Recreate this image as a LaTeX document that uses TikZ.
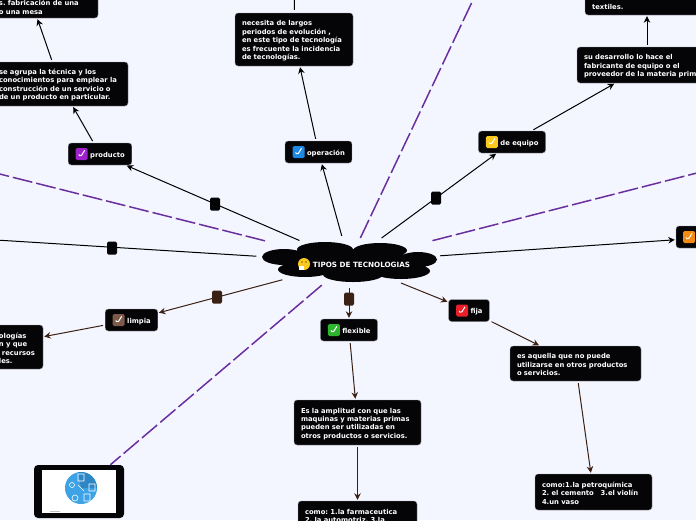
\documentclass[tikz,border=0pt]{standalone}
\usepackage{fontspec}
\setmainfont{DejaVu Sans}
\usepackage{tikz}
\usetikzlibrary{shapes,arrows.meta,positioning,calc}
\definecolor{fondo}{HTML}{F4F6FF}
\definecolor{negro}{HTML}{050508}
\definecolor{borde}{HTML}{9A9AA4}
\definecolor{morado}{HTML}{6A2F9E}
\definecolor{cafe}{HTML}{3A2114}
\definecolor{azulchk}{HTML}{1E88E5}
\definecolor{moradochk}{HTML}{A020D0}
\definecolor{amarillochk}{HTML}{FBC91E}
\definecolor{rojochk}{HTML}{E8202A}
\definecolor{verdechk}{HTML}{2DB52D}
\definecolor{marronchk}{HTML}{7E5A48}
\definecolor{naranjachk}{HTML}{F58A12}
\definecolor{azulimg}{HTML}{3DA2E6}
\definecolor{azulimgb}{HTML}{2F86C4}

\begin{document}
\begin{tikzpicture}[
    x=1pt, y=-1pt,
    font=\fontsize{6.8}{8.4}\bfseries\selectfont\frenchspacing,
    topic/.style={draw=borde, line width=0.4pt, fill=negro, text=white, rectangle, rounded corners=3pt, minimum height=22pt, inner xsep=7pt, inner ysep=0pt, execute at begin node={\rule{0pt}{7.6pt}}},
    detail/.style={draw=borde, line width=0.4pt, fill=negro, text=white, rectangle, rounded corners=3pt, inner xsep=7pt, inner ysep=0pt, align=left, execute at begin node={\rule{0pt}{7.8pt}}},
    chk/.style={rectangle, rounded corners=1.5pt, fill=#1, minimum size=12pt, inner sep=0pt, path picture={
        \draw[white, line width=1pt] ($(path picture bounding box.center)+(-3,0.5)$) -- ++(2,2.2) -- ++(4,-6.4);}},
    knot/.style={fill=#1, rectangle, rounded corners=1.5pt, minimum width=10pt, minimum height=13pt, inner sep=0pt},
    hub/.style={ellipse, minimum width=184pt, minimum height=48pt, inner sep=0pt},
    link/.style={draw=#1, line width=1pt, shorten <=2pt, shorten >=1pt, -{Stealth[length=6.5pt,width=6.5pt]}},
    plain/.style={draw=black, line width=1pt, shorten <=3pt},
    branch/.style={draw=morado, line width=1.5pt, dash pattern=on 20pt off 4pt}
]

\path[fill=fondo, use as bounding box] (0,0) rectangle (696,520);
\clip (0,0) rectangle (696,520);

\fill[negro] (284,257) ellipse [x radius=22, y radius=8] (325,249.5) ellipse [x radius=28, y radius=7.5]
    (380,250.5) ellipse [x radius=27, y radius=7.5] (418,259.5) ellipse [x radius=19, y radius=7.5]
    (401,271) ellipse [x radius=29, y radius=8] (353,274.5) ellipse [x radius=30, y radius=7.5]
    (305,269.5) ellipse [x radius=27, y radius=7.5] (349,262) ellipse [x radius=65, y radius=13];

\node[hub] (tema) at (349,262) {};
\node[text=white, font=\fontsize{7.2}{8.4}\bfseries\selectfont] (titulo) at (361.5,265) {TIPOS DE TECNOLOGIAS};
\fill[amarillochk] (304,264) circle (6);
\fill[black] (302,262) circle (0.7) (306,262) circle (0.7);
\fill[white] (299,266) rectangle (304,270);

\node[topic] (producto) at (100,154) {\hspace*{15pt}producto};
\node[chk=moradochk, right=7.5pt of producto.west] (chkproducto) {};
\node[topic] (operacion) at (318.5,152) {\hspace*{15pt}operación};
\node[chk=azulchk, right=7.5pt of operacion.west] (chkoperacion) {};
\node[topic] (equipo) at (512,142) {\hspace*{15pt}de equipo};
\node[chk=amarillochk, right=7.5pt of equipo.west] (chkequipo) {};
\node[topic] (limpia) at (131.5,320) {\hspace*{15pt}limpia};
\node[chk=marronchk, right=7.5pt of limpia.west] (chklimpia) {};
\node[topic] (flexible) at (349,330) {\hspace*{15pt}flexible};
\node[chk=verdechk, right=7.5pt of flexible.west] (chkflexible) {};
\node[topic] (fija) at (469,310.5) {\hspace*{15pt}fija};
\node[chk=rojochk, right=7.5pt of fija.west] (chkfija) {};
\node[topic, minimum width=80pt] (oculto) at (716,237) {};
\node[chk=naranjachk, right=7pt of oculto.west] (chkoculto) {};

\node[detail, text width=116pt, minimum height=24pt] (mesa) at (33,6) {\hspace*{24pt}s. fabricación de una\\\hspace*{24pt}o una mesa};
\node[detail, text width=122pt, minimum height=44pt] (agrupa) at (60,84) {se agrupa la técnica y los\\conocimientos para emplear la\\construcción de un servicio o\\de un producto en particular.};
\node[detail, text width=104pt, minimum height=53pt] (necesita) at (294,39.5) {necesita de largos\\periodos de evolución ,\\en este tipo de tecnología\\es frecuente la incidencia\\de tecnologías.};
\node[detail, text width=126pt, minimum height=36pt] (desarrollo) at (647,65) {su desarrollo lo hace el\\fabricante de equipo o el\\proveedor de la materia prima};
\node[detail, text width=110pt, minimum height=18pt] (textiles) at (647,6) {textiles.};
\node[detail, text width=94pt, minimum height=44pt] (ologias) at (-11,347) {\hspace*{57pt}ologías\\\hspace*{57pt}n y que\\\hspace*{60pt}recursos\\\hspace*{57pt}les.};
\node[detail, text width=113pt, minimum height=45pt] (amplitud) at (357.5,422.5) {Es la amplitud con que las\\maquinas y materias primas\\pueden ser utilizadas en\\otros productos o servicios.};
\node[detail, text width=105pt, minimum height=28pt] (farma) at (357.5,515) {como: 1.la farmaceutica\\2. la automotriz, 3.la};
\node[detail, text width=117pt, minimum height=35pt] (aquella) at (575.5,363.5) {es aquella que no puede\\utilizarse en otros productos\\o servicios.};
\node[detail, text width=103pt, minimum height=36pt] (petro) at (593.5,492) {como:1.la petroquímica\\2. el cemento~~ 3.el violín\\4.un vaso};

\node[fill=negro, rectangle, rounded corners=4pt, minimum width=90pt, minimum height=53pt, inner sep=0pt] (imagen) at (79,491.5) {};
\node[fill=white, rectangle, minimum width=74pt, minimum height=43pt, inner sep=0pt] (lamina) at (79,491.5) {};
\fill[azulimg] (81,488) circle (16);
\fill[azulimgb] (81,488) -- (97,488) arc [start angle=0, end angle=-100, radius=16] -- cycle;
\draw[white, line width=0.6pt] (78,485) -- (84,491) (78,474) rectangle (84,481) (89,484) rectangle (95,491) (84,494) rectangle (90,501);
\draw[white, line width=0.6pt] (72,485) circle (2.5) (75,498) circle (3);
\draw[gray!50, line width=1pt] (50,511) -- (60,511);

\node[knot=negro] (nudoproducto) at (215,204) {};
\node[knot=negro] (nudoequipo) at (436,198) {};
\node[knot=negro] (nudoizq) at (112,248) {};
\node[knot=cafe] (nudolimpia) at (217,297) {};
\node[knot=cafe] (nudoflexible) at (349,299) {};

\coordinate (salidaizq) at (-20,239);
\coordinate (salidanecesita) at (294.5,-20);
\coordinate (ramaizq) at (-40,164);
\coordinate (ramaarriba) at (490,-36);
\coordinate (ramader) at (736,163);

\draw[link=black] (tema) -- (producto);
\draw[link=black] (tema) -- (operacion);
\draw[link=black] (tema) -- (equipo);
\draw[link=black] (tema) -- (oculto);
\draw[plain] (tema) -- (salidaizq);
\draw[link=black] (producto) -- (agrupa);
\draw[link=black] (agrupa) -- (mesa);
\draw[link=black] (operacion) -- (necesita);
\draw[plain] (necesita) -- (salidanecesita);
\draw[link=black] (equipo) -- (desarrollo);
\draw[link=black] (desarrollo) -- (textiles);
\draw[link=cafe] (tema) -- (limpia);
\draw[link=cafe] (limpia) -- (ologias);
\draw[link=cafe] (tema) -- (flexible);
\draw[link=cafe] (flexible) -- (amplitud);
\draw[link=cafe] (amplitud) -- (farma);
\draw[link=cafe] (tema) -- (fija);
\draw[link=cafe] (fija) -- (aquella);
\draw[link=cafe] (aquella) -- (petro);

\draw[branch, shorten <=18pt] (tema) -- (ramaizq);
\draw[branch] (tema) -- (ramaarriba);
\draw[branch, shorten <=18pt] (tema) -- (ramader);
\draw[branch] (tema) -- (imagen);

\end{tikzpicture}
\end{document}
